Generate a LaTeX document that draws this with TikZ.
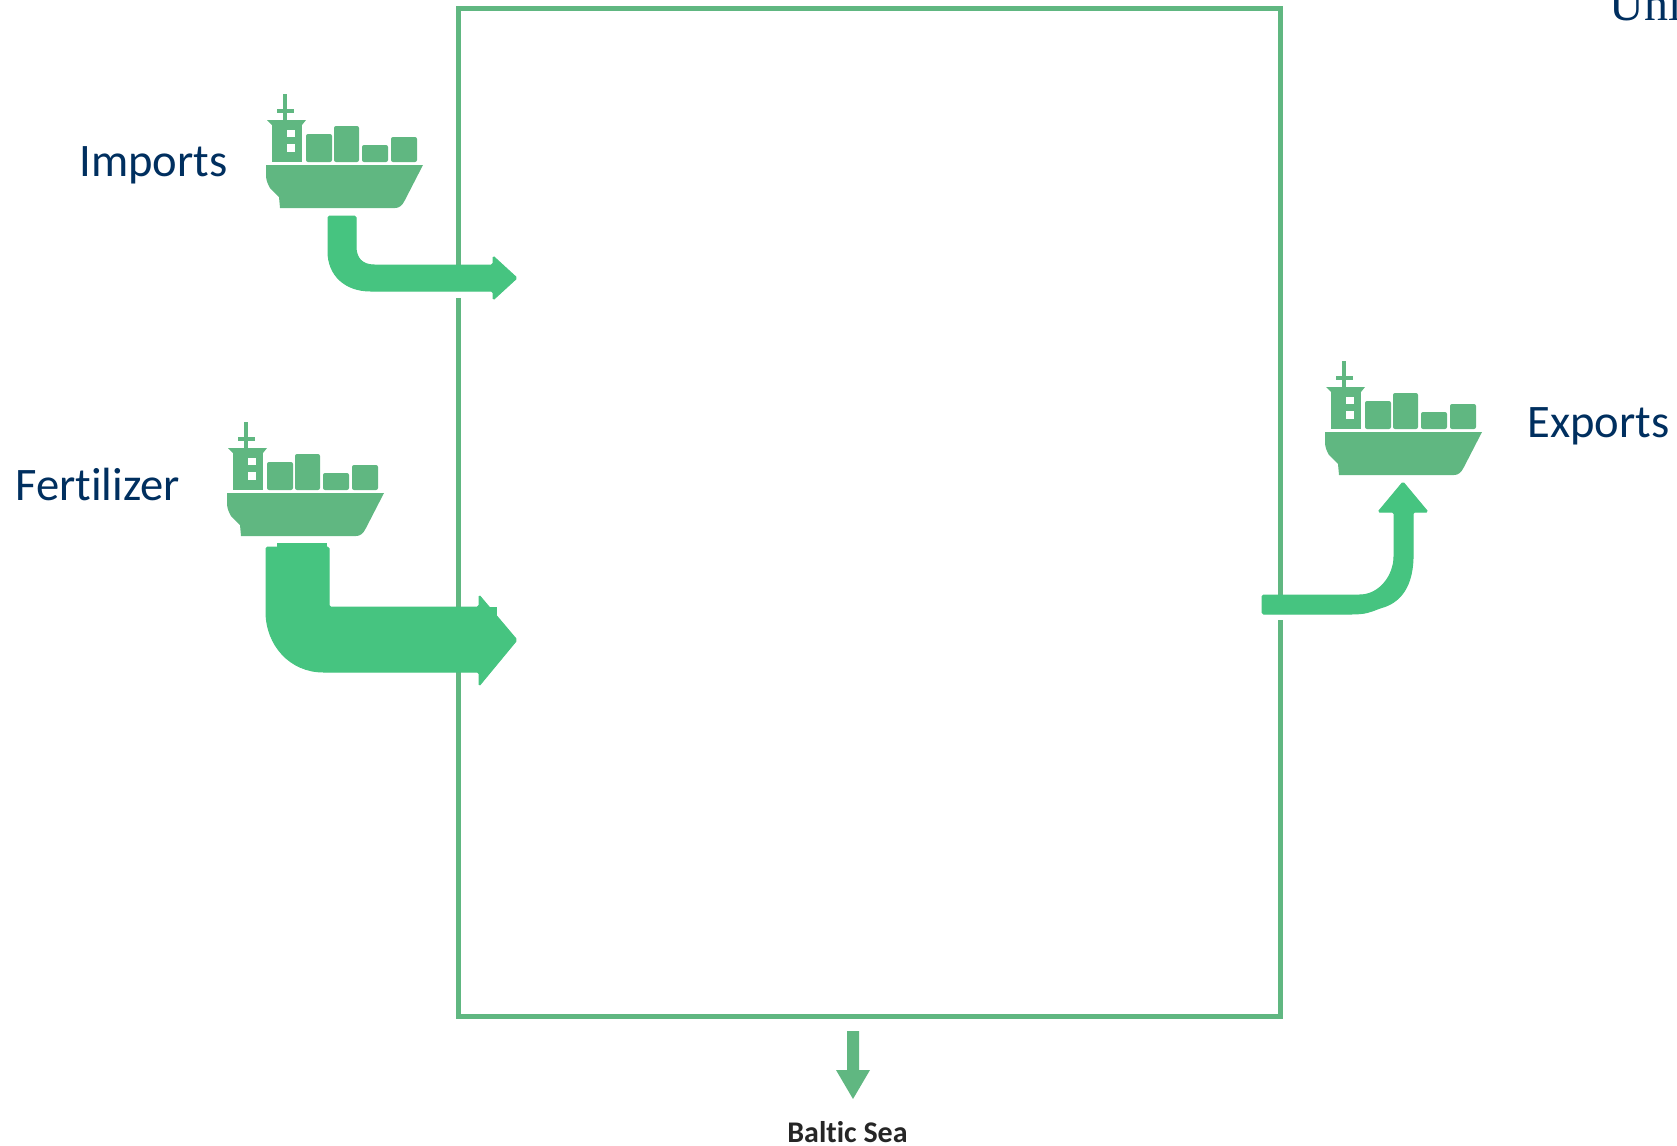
\documentclass[tikz,border=0pt]{standalone}
\usepackage{fontspec}
\setmainfont[Ligatures=NoCommon]{Carlito}
\newfontfamily\unifont{Liberation Serif}
\definecolor{shipgreen}{HTML}{60B781}
\definecolor{flowgreen}{HTML}{46C480}
\definecolor{labelblue}{HTML}{002F5F}
\tikzset{
  shiplabel/.style={anchor=base west,inner sep=0pt,text=labelblue,font=\fontsize{23.3}{28}\selectfont},
  flow/.style={fill=flowgreen,draw=flowgreen,line width=.5pt,rounded corners=.8pt},
  ship/.pic={
    % hull
    \fill[shipgreen] (0,0) -- (157,0) -- (139,35) .. controls (136,41) and (133,43) .. (129,43)
      -- (14,43) -- (13,32) -- (4,23) .. controls (1,18) and (0,14) .. (0,10) -- cycle;
    % containers
    \fill[shipgreen,rounded corners=1pt] (40,-3) rectangle (66,-31);
    \fill[shipgreen,rounded corners=1pt] (68,-3) rectangle (93,-39);
    \fill[shipgreen,rounded corners=1pt] (96,-3) rectangle (122,-20);
    \fill[shipgreen,rounded corners=1pt] (125,-3) rectangle (151,-28);
    % tower and mast
    \fill[shipgreen] (6,-3) rectangle (36,-40);
    \fill[shipgreen] (1,-45) -- (40,-45) -- (36,-40) -- (6,-40) -- cycle;
    \fill[shipgreen] (17,-45) rectangle (21,-71);
    \fill[shipgreen] (11,-52) rectangle (28,-56);
    \fill[white] (21,-28) rectangle (29,-35);
    \fill[white] (21,-13) rectangle (29,-21);
  }
}
\begin{document}
\begin{tikzpicture}[x=.5pt,y=-.5pt]
  \clip (0,0) rectangle (1677,1146);
  \draw[shipgreen,line width=2.5pt] (458,8.5) rectangle (1280,1016);
  % gaps in the frame
  \fill[white] (450,291) rectangle (466,298);
  \fill[white] (1272,614) rectangle (1288,620);
  %
  \pic (shipimports) at (266,165) {ship};
  \pic (shipfertilizer) at (227,493) {ship};
  \pic (shipexports) at (1325,432) {ship};
  %
  \node[shiplabel] (imports) at (79,176) {Imports};
  \node[shiplabel] (fertilizer) at (15,500) {Fertilizer};
  \node[shiplabel] (exports) at (1527,437) {Exports};
  \node[anchor=base west,inner sep=0pt,text=labelblue,font=\unifont\fontsize{24}{28}\selectfont] (uni) at (1609,20) {Uni};
  \node[anchor=base,inner sep=0pt,text=black!85,font=\fontsize{15}{18}\selectfont\bfseries] (baltic) at (847.5,1142) {Baltic Sea};
  % flows
  \draw[flow] (328,216) -- (356,216) -- (356,245) .. controls (356,258) and (362,265) .. (376,265)
    -- (493,265) -- (493,256) -- (517,278) -- (493,300) -- (493,291) -- (372,291)
    .. controls (345,291) and (328,275) .. (328,250) -- cycle;
  \fill[flowgreen] (277,543) rectangle (327,548);
  \draw[flow] (266,547) -- (329,547) -- (329,607) -- (479,607) -- (479,595) -- (517,640)
    -- (479,686) -- (479,672) -- (325,672) .. controls (290,672) and (266,645) .. (266,610) -- cycle;
  \fill[flowgreen] (479,607) rectangle (497,616);
  \draw[flow] (1262,595) -- (1358,595) .. controls (1380,595) and (1394,575) .. (1394,555)
    -- (1394,512) -- (1378,512) -- (1403,482) -- (1428,512) -- (1413,512) -- (1413,560)
    .. controls (1411,590) and (1398,603) .. (1380,608) .. controls (1370,612) and (1365,614) .. (1350,614)
    -- (1262,614) -- cycle;
  \fill[shipgreen] (847,1031) -- (859,1031) -- (859,1070) -- (870,1070) -- (853,1099)
    -- (836,1070) -- (847,1070) -- cycle;
\end{tikzpicture}
\end{document}
